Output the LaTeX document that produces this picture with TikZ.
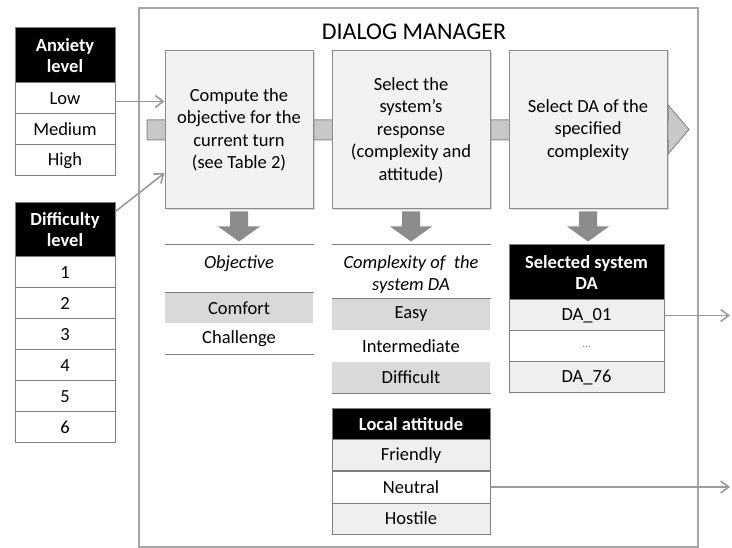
\documentclass[tikz,border=0pt]{standalone}
\usepackage{fontspec}
\setmainfont{Carlito}
\usetikzlibrary{arrows,arrows.meta,positioning,calc,shadows}
\definecolor{stepfill}{HTML}{F2F2F2}
\definecolor{stepline}{HTML}{8C8C8C}
\definecolor{rowline}{HTML}{7F7F7F}
\definecolor{darkcell}{HTML}{D9D9D9}
\definecolor{palecell}{HTML}{EFEFEF}
\definecolor{bandfill}{HTML}{C8C8C8}
\definecolor{arrowgrey}{HTML}{8C8C8C}
\definecolor{flowline}{HTML}{9A9A9A}
\definecolor{frameline}{HTML}{A6A6A6}

\begin{document}
\begin{tikzpicture}
	[x=1pt,y=-1pt,font=\fontsize{18.5}{22.5}\selectfont,
	row node/.style={shape=rectangle,draw=rowline,line width=1pt,fill=white,inner sep=0pt,minimum width=100pt,minimum height=31pt},
	cell node/.style={row node,draw=none,fill=none,minimum width=158pt},
	head node/.style={row node,fill=black,text=white,align=center,font=\fontsize{18.5}{21}\selectfont\bfseries},
	step node/.style={shape=rectangle,draw=stepline,line width=1pt,fill=stepfill,minimum width=158pt,minimum height=158pt,align=center,drop shadow={opacity=.3,shadow xshift=1.5pt,shadow yshift=-1.5pt}},
	rule/.style={color=rowline,line width=1.4pt},
	flow/.style={-{Straight Barb[length=8pt,width=12pt,line width=1.6pt]},color=flowline,line width=1.6pt}
	]

	\useasboundingbox (0,0) rectangle (732,548);

	\node [draw=frameline,line width=1.2pt,inner sep=0pt,minimum width=559pt,minimum height=539pt] (dm) at (418.5,277.5) {};
	\node [font=\fontsize{24}{24}\selectfont] (t) at (414,32) {DIALOG MANAGER};

	\filldraw[fill=bandfill,draw=arrowgrey,line width=1pt]
	(147,120) -- (668,120) -- (668,105) -- (689,129.5) -- (668,154) -- (668,140) -- (147,140) -- cycle;

	\node [step node,minimum width=148pt] (b1) at (239,130) {Compute the\\objective for the\\current turn\\(see Table 2)};
	\node [step node] (b2) at (411,130) {Select the\\system’s\\response\\(complexity and\\attitude)};
	\node [step node] (b3) at (588,130) {Select DA of the\\specified\\complexity};

	\foreach \b in {b1,b2,b3}
	\fill[arrowgrey] ($(\b.south)+(-9,2)$) -- ++(18,0) -- ++(0,15) -- ++(12,0) -- ++(-21,15) -- ++(-21,-15) -- ++(12,0) -- cycle;

	\node [head node,minimum height=55pt] (a0) at (65,55.5) {Anxiety\\level};
	\node [row node] (a1) at (65,98.5) {Low};
	\node [row node] (a2) at (65,129.5) {Medium};
	\node [row node] (a3) at (65,160.5) {High};

	\node [head node,minimum height=54pt] (d0) at (65,230) {Difficulty\\level};
	\foreach \n in {1,...,6}
	\node [row node] (d\n) at (65,241.5+31*\n) {\n};

	\node [font=\fontsize{18.5}{22.5}\selectfont\itshape] (o0) at (239,264) {Objective};
	\node [cell node,fill=darkcell,minimum width=148pt,minimum height=30pt] (o1) at (239,308) {Comfort};
	\node [cell node,minimum width=148pt] (o2) at (239,338.5) {Challenge};

	\node [align=center,font=\fontsize{18.5}{22}\selectfont\itshape] (c0) at (411,275) {Complexity of~ the\\system DA};
	\node [cell node,fill=darkcell] (c1) at (411,314.5) {Easy};
	\node [cell node,minimum height=32pt] (c2) at (411,346) {Intermediate};
	\node [cell node,fill=darkcell] (c3) at (411,377.5) {Difficult};

	\node [head node,minimum width=155pt,minimum height=55pt] (s0) at (586.5,272.5) {Selected system\\DA};
	\node [row node,fill=palecell,minimum width=155pt] (s1) at (586.5,315.5) {DA\_01};
	\node [row node,minimum width=155pt] (s2) at (586.5,346.5) {\fontsize{11}{11}\selectfont\color{gray}...};
	\node [row node,fill=palecell,minimum width=155pt] (s3) at (586.5,377.5) {DA\_76};

	\node [head node,minimum width=158pt] (l0) at (411,424.5) {Local attitude};
	\node [row node,fill=palecell,minimum width=158pt] (l1) at (411,455.5) {Friendly};
	\node [row node,minimum width=158pt,minimum height=32pt] (l2) at (411,487) {Neutral};
	\node [row node,fill=palecell,minimum width=158pt] (l3) at (411,518.5) {Hostile};

	\coordinate (x1) at (730,315.5);
	\coordinate (x2) at (730,487);

	\path[rule]
	($(o1.north west)+(0,-48)$) edge ($(o1.north east)+(0,-48)$)
	(o1.north west) edge (o1.north east)
	(o2.south west) edge (o2.south east)
	($(c1.north west)+(0,-54)$) edge ($(c1.north east)+(0,-54)$)
	(c1.north west) edge (c1.north east)
	(c3.south west) edge (c3.south east)
	;

	\path[flow]
	($(a1.east)+(0,3)$) edge ($(b1.west |- a1.east)+(0,3)$)
	($(d0.north east)+(0,9)$) edge ($(b1.west)+(0,43)$)
	;
	\path[flow,line width=1.3pt]
	(s1.east) edge (x1)
	(l2.east) edge (x2)
	;

\end{tikzpicture}
\end{document}
